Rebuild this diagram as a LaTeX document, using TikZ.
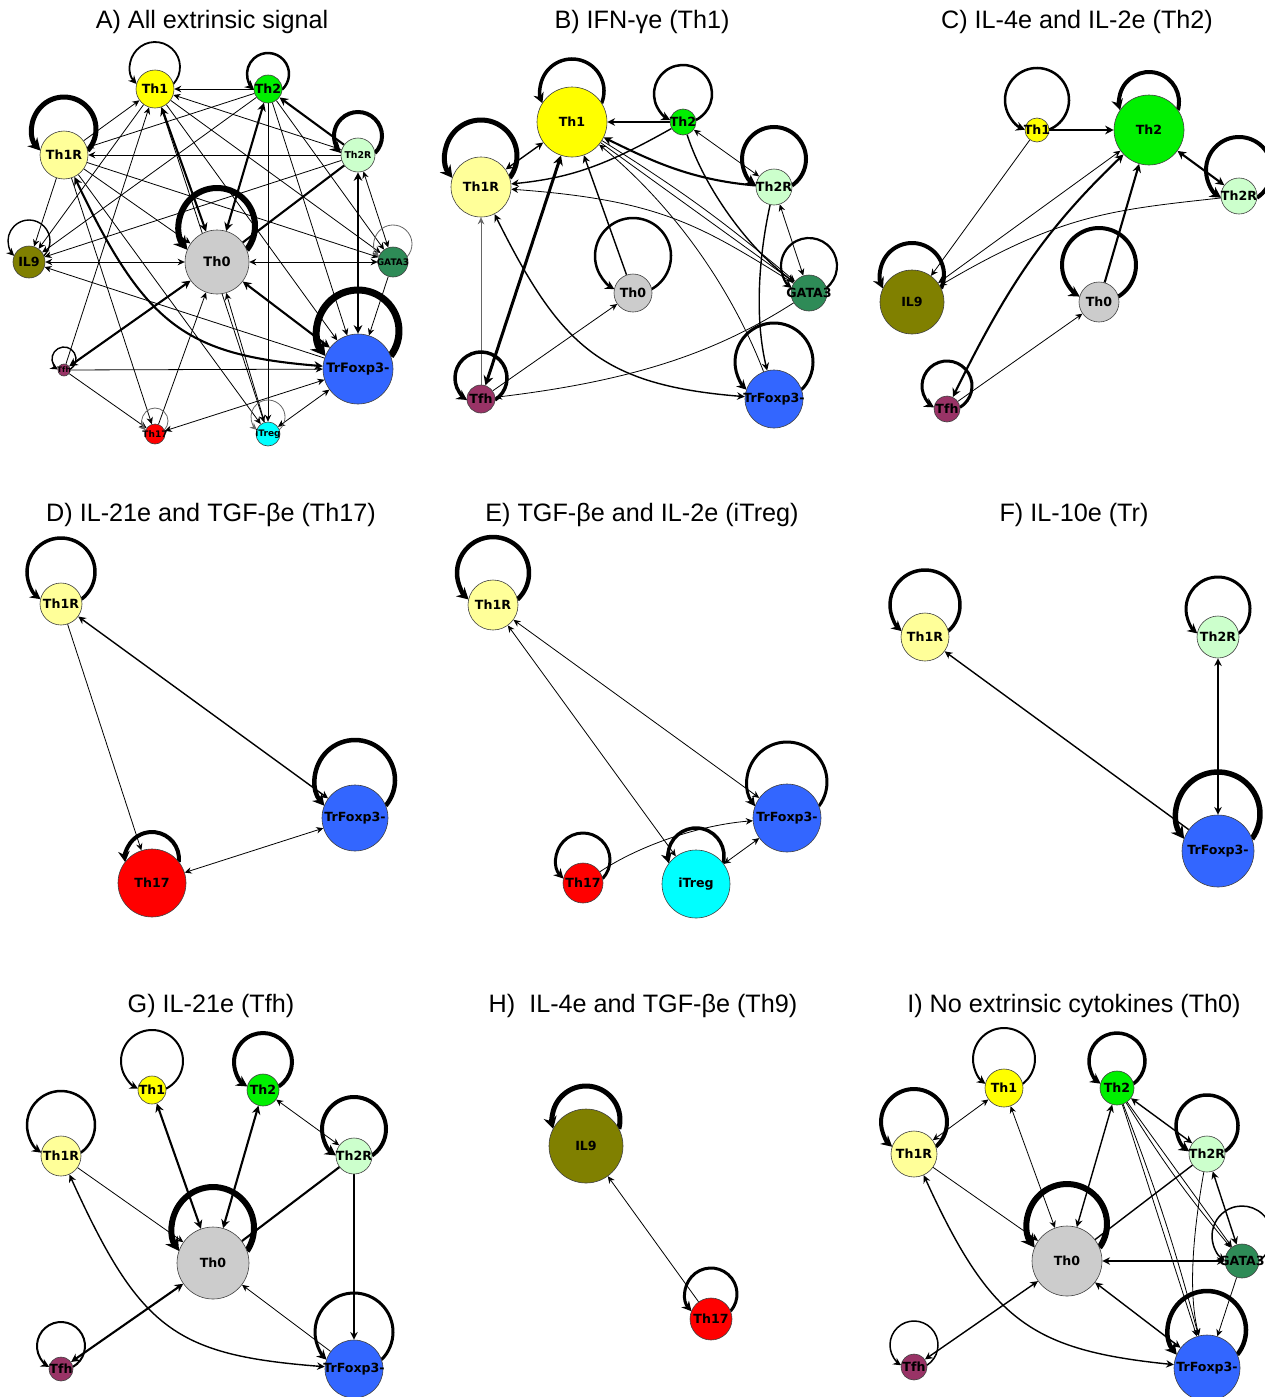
\documentclass[tikz,border=0pt]{standalone}
\usepackage{fontspec}
\setmainfont{Liberation Sans}
\newfontfamily\labfont{DejaVu Sans}
\usetikzlibrary{arrows.meta}
\pgfdeclarelayer{paper}
\pgfdeclarelayer{back}
\pgfsetlayers{paper,back,main}

\definecolor{cThOne}{HTML}{FFFF00}
\definecolor{cThTwo}{HTML}{00F000}
\definecolor{cThOneR}{HTML}{FFFF99}
\definecolor{cThTwoR}{HTML}{CCFFCC}
\definecolor{cIL}{HTML}{808000}
\definecolor{cThZero}{HTML}{CCCCCC}
\definecolor{cGATA}{HTML}{2E8B57}
\definecolor{cTfh}{HTML}{993366}
\definecolor{cTr}{HTML}{3366FF}
\definecolor{cSvt}{HTML}{FF0000}
\definecolor{cTreg}{HTML}{00FFFF}

\tikzset{
  x=0.5pt, y=0.5pt,
  cell/.style={circle, draw=black!75, line width=0.3pt, inner sep=0pt},
  labtext/.style={inner sep=0pt, text=black},
  title/.style={font=\fontsize{12.6}{15}\selectfont, inner sep=0pt, anchor=base},
  >={Stealth[length=3pt 1.2, width=2.6pt 1.6]},
  e0/.style={line width=0.4pt},
  e1/.style={line width=0.7pt},
  e2/.style={line width=1.05pt},
  e3/.style={line width=1.5pt},
}

% a cell: [label size]{name}{position}{radius in px}{fill}{label}
\newcommand\cell[6][6.3]{%
  \node[cell, fill=#5, minimum size=#4pt,
        label={[labtext, font=\labfont\bfseries\fontsize{#1}{#1}\selectfont]center:#6}] (#2) at (#3) {};}

% self-loop: [style]{node}{node radius}{loop centre height}{loop radius}
\newcommand\selfloop[5][]{%
  \pgfmathsetmacro\lpy{(#3*#3-#5*#5+#4*#4)/(2*#4)}%
  \pgfmathsetmacro\lpt{asin((\lpy-#4)/#5)}%
  \pgfmathsetmacro\lpe{180-(\lpt)}%
  \draw[->, #1] ([shift={(0,#4)}]#2.center) ++(\lpt:#5)
    arc[start angle=\lpt, end angle=\lpe, radius=#5];}

\begin{document}
\begin{tikzpicture}
\useasboundingbox (0,0) rectangle (1264,-1397);
\begin{pgfonlayer}{paper}
\fill[white] (0,0) rectangle (1264,-1397);
\end{pgfonlayer}

% ---------- titles ----------
\node[title] (tA) at (212,-28) {A) All extrinsic signal};
\node[title] (tB) at (642,-28) {B) IFN-γe (Th1)};
\node[title] (tC) at (1077,-28) {C) IL-4e and IL-2e (Th2)};
\node[title] (tD) at (211,-521) {D) IL-21e and TGF-βe (Th17)};
\node[title] (tE) at (642,-521) {E) TGF-βe and IL-2e (iTreg)};
\node[title] (tF) at (1074,-521) {F) IL-10e (Tr)};
\node[title] (tG) at (211,-1012) {G) IL-21e (Tfh)};
\node[title] (tH) at (643,-1012) {H)\ \ IL-4e and TGF-βe (Th9)};
\node[title] (tI) at (1074,-1012) {I) No extrinsic cytokines (Th0)};

% ---------- A ----------
\cell{aTh1}{155,-89}{19}{cThOne}{Th1}
\cell{aTh2}{268,-89}{14}{cThTwo}{Th2}
\cell{aTh1R}{64,-155}{24}{cThOneR}{Th1R}
\cell[4.7]{aTh2R}{358,-155}{17}{cThTwoR}{Th2R}
\cell{aIL9}{29,-262}{16}{cIL}{IL9}
\cell[6.5]{aTh0}{217,-262}{32}{cThZero}{Th0}
\cell[4.5]{aGATA3}{393,-262}{15}{cGATA}{GATA3}
\cell[3.8]{aTfh}{64,-370}{6}{cTfh}{Tfh}
\cell[6.5]{aTrF}{358,-369}{35}{cTr}{TrFoxp3-}
\cell[4.5]{aTh17}{155,-434}{10}{cSvt}{Th17}
\cell[4.5]{aiTreg}{268,-434}{12}{cTreg}{iTreg}

% ---------- B ----------
\cell{bTh1}{572,-122}{35}{cThOne}{Th1}
\cell{bTh2}{683,-122}{13}{cThTwo}{Th2}
\cell{bTh1R}{481,-187}{30}{cThOneR}{Th1R}
\cell{bTh2R}{774,-187}{18}{cThTwoR}{Th2R}
\cell{bTh0}{633,-293}{19}{cThZero}{Th0}
\cell{bGATA3}{809,-293}{18}{cGATA}{GATA3}
\cell{bTfh}{481,-399}{14}{cTfh}{Tfh}
\cell{bTrF}{774,-399}{29}{cTr}{TrFoxp3-}

% ---------- C ----------
\cell{cTh1}{1037,-130}{12}{cThOne}{Th1}
\cell{cTh2}{1149,-130}{35}{cThTwo}{Th2}
\cell{cTh2R}{1239,-196}{18}{cThTwoR}{Th2R}
\cell{cIL9}{912,-302}{32}{cIL}{IL9}
\cell{cTh0}{1099,-302}{20}{cThZero}{Th0}
\cell{cTfh}{947,-409}{13}{cTfh}{Tfh}

% ---------- D ----------
\cell{dTh1R}{61,-604}{21}{cThOneR}{Th1R}
\cell{dTrF}{355,-818}{33}{cTr}{TrFoxp3-}
\cell{dTh17}{152,-883}{34}{cSvt}{Th17}

% ---------- E ----------
\cell{eTh1R}{493,-605}{25}{cThOneR}{Th1R}
\cell{eTrF}{787,-818}{34}{cTr}{TrFoxp3-}
\cell{eTh17}{583,-883}{20}{cSvt}{Th17}
\cell{eiTreg}{696,-884}{34}{cTreg}{iTreg}

% ---------- F ----------
\cell{fTh1R}{925,-637}{24}{cThOneR}{Th1R}
\cell{fTh2R}{1218,-637}{21}{cThTwoR}{Th2R}
\cell{fTrF}{1218,-851}{36}{cTr}{TrFoxp3-}

% ---------- G ----------
\cell{gTh1}{152,-1090}{14}{cThOne}{Th1}
\cell{gTh2}{263,-1090}{16}{cThTwo}{Th2}
\cell{gTh1R}{61,-1156}{20}{cThOneR}{Th1R}
\cell{gTh2R}{354,-1156}{18}{cThTwoR}{Th2R}
\cell{gTh0}{213,-1263}{36}{cThZero}{Th0}
\cell{gTfh}{61,-1369}{12}{cTfh}{Tfh}
\cell{gTrF}{354,-1369}{29}{cTr}{TrFoxp3-}

% ---------- H ----------
\cell{hIL9}{586,-1146}{37}{cIL}{IL9}
\cell{hTh17}{711,-1319}{21}{cSvt}{Th17}

% ---------- I ----------
\cell{iTh1}{1004,-1088}{19}{cThOne}{Th1}
\cell{iTh2}{1117,-1088}{17}{cThTwo}{Th2}
\cell{iTh1R}{914,-1154}{23}{cThOneR}{Th1R}
\cell{iTh2R}{1207,-1154}{18}{cThTwoR}{Th2R}
\cell{iTh0}{1067,-1261}{35}{cThZero}{Th0}
\cell{iGATA3}{1242,-1261}{17}{cGATA}{GATA3}
\cell{iTfh}{914,-1367}{13}{cTfh}{Tfh}
\cell{iTrF}{1207,-1368}{33}{cTr}{TrFoxp3-}

\begin{pgfonlayer}{back}
% ===== A: interactions =====
\draw[e0,->] (aTh2) -- (aTh1);
\draw[e0,->] (aTh1R) -- (aTh1);
\draw[e0,->] (aTh2) -- (aTh1R);
\draw[e2,<->] (aTh1) -- (aTh0);
\draw[e2,<->] (aTh2) -- (aTh0);
\draw[e2,->] (aTh2R) -- (aTh2);
\draw[e2] (aTh2R) -- (aTh0);
\draw[e2,<->] (aTh2R) -- (aTrF);
\draw[e0,<->] (aTh2R) -- (aGATA3);
\draw[e0,<->] (aIL9) -- (aTh0);
\draw[e0,<->] (aTh0) -- (aGATA3);
\draw[e0,->] (aGATA3) -- (aTrF);
\draw[e2,<->] (aTrF) -- (aTh0);
\draw[e2,<->] (aTfh) -- (aTh0);
\draw[e2,<->] (aTh1R) .. controls (145,-325) and (185,-355) .. (aTrF);
\draw[e0,->] (aTfh) -- (aTrF);
\draw[e0,->] (aTfh) -- (aTh17);
\draw[e0,->] (aTfh) -- (aTh1);
\draw[e0,->] (aTh17) -- (aTh0);
\draw[e0,<->] (aTrF) -- (aTh17);
\draw[e0,->] (aiTreg) -- (aTh0);
\draw[e0,<->] (aiTreg) -- (aTrF);
\draw[e0,->] (aTh2) -- (aiTreg);
\draw[e0,->] (aTh1R) -- (aiTreg);
\draw[e0,->] (aTh1R) -- (aTh17);
\draw[e0,->] (aTh1R) -- (aIL9);
\draw[e0,->] (aTh1) -- (aIL9);
\draw[e0,->] (aTh2) -- (aIL9);
\draw[e0,->] (aTh2R) -- (aIL9);
\draw[e0,->] (aTrF) -- (aIL9);
\draw[e0,->] (aTh1R) -- (aTh0);
\draw[e0,->] (aTh1R) -- (aGATA3);
\draw[e0,->] (aTh2R) -- (aTh1R);
\draw[e0,->] (aTh1) -- (aGATA3);
\draw[e0,->] (aTh2R) -- (aTh1);
\draw[e0,->] (aTh1) -- (aTrF);
\draw[e0,->] (aTh2) -- (aGATA3);
\draw[e0,->] (aTh2) -- (aTrF);
\draw[e0,->] (aTh1) -- (aiTreg);
% A: self-loops
\selfloop[line width=0.9pt]{aTh1}{19}{22}{25}
\selfloop[line width=1.25pt]{aTh2}{14}{15}{21}
\selfloop[line width=2.5pt]{aTh1R}{24}{26}{32}
\selfloop[line width=2pt]{aTh2R}{17}{19}{24}
\selfloop[line width=0.7pt]{aIL9}{16}{21}{21}
\selfloop[line width=3pt]{aTh0}{32}{36}{38}
\selfloop[line width=0.4pt, black!60]{aGATA3}{15}{18}{19}
\selfloop[line width=0.7pt]{aTfh}{6}{11}{12}
\selfloop[line width=3.5pt]{aTrF}{35}{38}{41}
\selfloop[line width=0.4pt, black!60]{aTh17}{10}{13}{13}
\selfloop[line width=0.4pt, black!60]{aiTreg}{12}{17}{17}

% ===== B =====
\draw[e1,->] (bTh2) -- (bTh1);
\draw[e1,<->] (bTh1R) -- (bTh1);
\draw[e1,->] (bTh2) .. controls (605,-166) and (570,-178) .. (bTh1R);
\draw[e2,->] (bTh2R) .. controls (690,-180) and (650,-160) .. (bTh1);
\draw[e3,<->] (bTfh) -- (bTh1);
\draw[e1,->] (bTh0) -- (bTh1);
\draw[e0,->,black!60] (bTfh) -- (bTh1R);
\draw[e0,->] (bTfh) -- (bTh0);
\draw[e0,->] (bGATA3) .. controls (720,-350) and (640,-380) .. (bTfh);
\draw[e1,<->] (bTh1R) .. controls (560,-345) and (600,-385) .. (bTrF);
\draw[e0,->] (bGATA3) .. controls (700,-225) and (660,-200) .. (bTh1R);
\draw[e0,->] (bTh1) -- (bGATA3);
\draw[e0,->] (bTh1) to[bend left=4] (bGATA3);
\draw[e0,<->] (bTh2R) -- (bTh2);
\draw[e0,<->] (bTh2R) -- (bGATA3);
\draw[e1,->] (bTh2R) .. controls (758,-260) and (755,-320) .. (bTrF);
\draw[e0,->] (bTrF) .. controls (740,-310) and (690,-220) .. (bTh1);
\draw[e1,->] (bTh2) .. controls (705,-190) and (750,-250) .. (bGATA3);
\selfloop[line width=1.75pt]{bTh1}{35}{31}{32}
\selfloop[line width=1.25pt]{bTh2}{13}{28}{29}
\selfloop[line width=2.5pt]{bTh1R}{30}{31}{36}
\selfloop[line width=2pt]{bTh2R}{18}{28}{32}
\selfloop[line width=1.25pt]{bTh0}{19}{37}{38}
\selfloop[line width=1.1pt]{bGATA3}{18}{27}{28}
\selfloop[line width=1.75pt]{bTfh}{14}{21}{26}
\selfloop[line width=1.5pt]{bTrF}{29}{37}{39}

% ===== C =====
\draw[e2,->] (cTh1) -- (cTh2);
\draw[e0,->] (cTh1) -- (cIL9);
\draw[e0,<->] (cIL9) -- (cTh2);
\draw[e0,->] (cTh2R) .. controls (1110,-210) and (1060,-215) .. (cIL9);
\draw[e2,<->] (cTfh) .. controls (1010,-280) and (1050,-225) .. (cTh2);
\draw[e0,->] (cTfh) -- (cTh0);
\draw[e2,->] (cTh0) -- (cTh2);
\draw[e2,<->] (cTh2) -- (cTh2R);
\selfloop[line width=1.25pt]{cTh1}{12}{30}{32}
\selfloop[line width=2pt]{cTh2}{35}{28}{30}
\selfloop[line width=2pt]{cTh2R}{18}{26}{33}
\selfloop[line width=2pt]{cIL9}{32}{27}{32}
\selfloop[line width=2pt]{cTh0}{20}{37}{37}
\selfloop[line width=1.5pt]{cTfh}{13}{23}{25}

% ===== D =====
\draw[e0,->] (dTh1R) -- (dTh17);
\draw[e1,<->] (dTh1R) -- (dTrF);
\draw[e0,<->] (dTh17) -- (dTrF);
\selfloop[line width=1.75pt]{dTh1R}{21}{32}{34}
\selfloop[line width=2.25pt]{dTrF}{33}{38}{40}
\selfloop[line width=2pt]{dTh17}{34}{24}{27}

% ===== E =====
\draw[e0,<->] (eTh1R) -- (eTrF);
\draw[e0,<->] (eTh1R) -- (eiTreg);
\draw[e0,->] (eTh17) .. controls (640,-845) and (700,-825) .. (eTrF);
\draw[e0,<->] (eiTreg) -- (eTrF);
\selfloop[line width=2.25pt]{eTh1R}{25}{32}{36}
\selfloop[line width=1.5pt]{eTrF}{34}{36}{40}
\selfloop[line width=1.5pt]{eTh17}{20}{23}{27}
\selfloop[line width=1.75pt]{eiTreg}{34}{28}{28}

% ===== F =====
\draw[e1,->] (fTrF) -- (fTh1R);
\draw[e1,<->] (fTh2R) -- (fTrF);
\selfloop[line width=1.75pt]{fTh1R}{24}{32}{35}
\selfloop[line width=1.5pt]{fTh2R}{21}{28}{32}
\selfloop[line width=2.75pt]{fTrF}{36}{37}{42}

% ===== G =====
\draw[e2,<->] (gTh1) -- (gTh0);
\draw[e2,<->] (gTh2) -- (gTh0);
\draw[e0,<->] (gTh2) -- (gTh2R);
\draw[e2] (gTh2R) -- (gTh0);
\draw[e0,->] (gTh1R) -- (gTh0);
\draw[e1,->] (gTh2R) -- (gTrF);
\draw[e0,->] (gTrF) -- (gTh0);
\draw[e2,<->] (gTfh) -- (gTh0);
\draw[e1,<->] (gTh1R) .. controls (140,-1330) and (175,-1355) .. (gTrF);
\selfloop[line width=1pt]{gTh1}{14}{29}{31}
\selfloop[line width=2pt]{gTh2}{16}{28}{29}
\selfloop[line width=1.25pt]{gTh1R}{20}{31}{34}
\selfloop[line width=2pt]{gTh2R}{18}{27}{32}
\selfloop[line width=3pt]{gTh0}{36}{35}{41}
\selfloop[line width=1pt]{gTfh}{12}{23}{24}
\selfloop[line width=1.5pt]{gTrF}{29}{37}{39}

% ===== H =====
\draw[e0,->] (hTh17) -- (hIL9);
\selfloop[line width=2.5pt]{hIL9}{37}{26}{34}
\selfloop[line width=1.5pt]{hTh17}{21}{25}{26}

% ===== I =====
\draw[e0,<->] (iTh1R) -- (iTh1);
\draw[e0,<->] (iTh1) -- (iTh0);
\draw[e1,<->] (iTh2) -- (iTh0);
\draw[e1,<->] (iTh2) -- (iTh2R);
\draw[e1] (iTh2R) -- (iTh0);
\draw[e0,->] (iTh1R) -- (iTh0);
\draw[e1,<->] (iTh2R) -- (iGATA3);
\draw[e1,<->] (iTh0) -- (iGATA3);
\draw[e1,<->] (iTh0) -- (iTrF);
\draw[e0,->] (iTh2) -- (iGATA3);
\draw[e0,->] (iTh2) to[bend right=4] (iGATA3);
\draw[e0,->] (iTh2) -- (iTrF);
\draw[e0,->] (iTh2) to[bend left=3] (iTrF);
\draw[e0,->] (iTh2R) .. controls (1190,-1250) and (1190,-1300) .. (iTrF);
\draw[e0,->] (iGATA3) -- (iTrF);
\draw[e1,<->] (iTh1R) .. controls (990,-1320) and (1030,-1350) .. (iTrF);
\draw[e1,<->] (iTfh) -- (iTh0);
\selfloop[line width=1pt]{iTh1}{19}{29}{31}
\selfloop[line width=1.75pt]{iTh2}{17}{27}{28}
\selfloop[line width=2pt]{iTh1R}{23}{32}{33}
\selfloop[line width=1.75pt]{iTh2R}{18}{28}{31}
\selfloop[line width=3pt]{iTh0}{35}{37}{40}
\selfloop[line width=0.75pt]{iGATA3}{17}{25}{30}
\selfloop[line width=0.75pt]{iTfh}{13}{22}{24}
\selfloop[line width=2.25pt]{iTrF}{33}{38}{39}
\end{pgfonlayer}
\end{tikzpicture}
\end{document}
